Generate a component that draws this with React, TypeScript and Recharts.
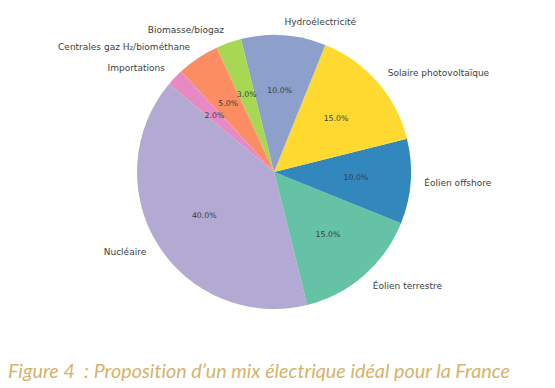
import React from "react";
import { PieChart, Pie, Cell } from "recharts";

const categories = [
  "Nucléaire",
  "Éolien terrestre",
  "Éolien offshore",
  "Solaire photovoltaïque",
  "Hydroélectricité",
  "Biomasse/biogaz",
  "Centrales gaz H₂/biométhane",
  "Importations",
];
const shares = [40, 15, 10, 15, 10, 3, 5, 2];
const colors = [
  "#b2aad3",
  "#66c2a5",
  "#3288bd",
  "#ffd92f",
  "#8da0cb",
  "#a6d854",
  "#fc8d62",
  "#e78ac3",
];
const caption = "Figure 4  : Proposition d’un mix électrique idéal pour la France";

const data = categories.map((name, i) => ({ name, value: shares[i] }));
const RAD = Math.PI / 180;

const renderLabel = (props: any) => {
  const { cx, cy, midAngle, outerRadius, name, percent } = props;
  const c = Math.cos(-midAngle * RAD);
  const s = Math.sin(-midAngle * RAD);
  const ox = cx + outerRadius * 1.1 * c;
  const oy = cy + outerRadius * 1.1 * s;
  const ix = cx + outerRadius * 0.6 * c;
  const iy = cy + outerRadius * 0.6 * s;
  return (
    <g>
      <text
        x={ox}
        y={oy}
        textAnchor={c >= 0 ? "start" : "end"}
        dominantBaseline="central"
        fontFamily="DejaVu Sans"
        fontSize={9}
        fill="#404040"
      >
        {name}
      </text>
      <text
        x={ix}
        y={iy}
        textAnchor="middle"
        dominantBaseline="central"
        fontFamily="DejaVu Sans"
        fontSize={7.8}
        fill="#3a3a3a"
      >
        {(percent * 100).toFixed(1) + "%"}
      </text>
    </g>
  );
};

export default function App() {
  return (
    <div style={{ position: "absolute", left: 0, top: 0, width: 555, height: 388, background: "#fff" }}>
      <PieChart width={555} height={388} margin={{ top: 0, right: 0, bottom: 0, left: 0 }}>
        <Pie
          data={data}
          dataKey="value"
          nameKey="name"
          cx={274}
          cy={172}
          outerRadius={137}
          startAngle={140}
          endAngle={500}
          stroke="none"
          label={renderLabel}
          labelLine={false}
          isAnimationActive={false}
        >
          {data.map((d, i) => (
            <Cell key={d.name} fill={colors[i]} />
          ))}
        </Pie>
      </PieChart>
      <svg width={555} height={388} style={{ position: "absolute", left: 0, top: 0, pointerEvents: "none" }}>
        <text
          x={8}
          y={378}
          fontFamily="Lato"
          fontStyle="italic"
          fontWeight={400}
          fontSize={20}
          fill="#d5b36c"
          textLength={502}
          lengthAdjust="spacingAndGlyphs"
          style={{ whiteSpace: "pre", fontVariantLigatures: "none" }}
        >
          {caption}
        </text>
      </svg>
    </div>
  );
}
